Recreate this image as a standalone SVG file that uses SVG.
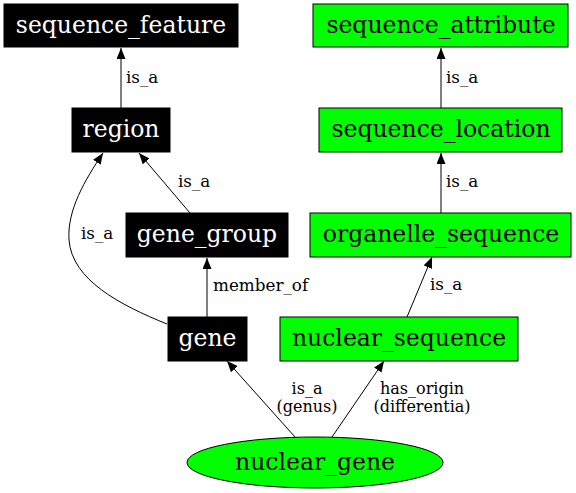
<svg xmlns="http://www.w3.org/2000/svg" width="576" height="493" viewBox="0 0 576 493">
<style>
.n text{font-family:"DejaVu Serif",serif;font-size:23.5px;text-anchor:middle}
.blk rect{fill:#000;stroke:#000}
.blk text{fill:#fff}
.grn rect,.grn ellipse{fill:#00ff00;stroke:#000}
.grn text{fill:#000}
.e path{fill:none;stroke:#000;stroke-width:1}
.e text{font-family:"DejaVu Serif",serif;font-size:16.8px;fill:#000}
.e text.c{text-anchor:middle;font-size:16px}
</style>
<defs>
<marker id="a" markerWidth="11" markerHeight="9" refX="11" refY="4.5" orient="auto" markerUnits="userSpaceOnUse">
<path d="M0,0 L11,4.5 L0,9 z" fill="#000"/>
</marker>
</defs>
<rect width="576" height="493" fill="#fff"/>
<g id="edges" class="e">
<path d="M121,108 L121,48" marker-end="url(#a)"/>
<text x="126" y="83">is_a</text>
<path d="M190,213 L139,153" marker-end="url(#a)"/>
<text x="178" y="187">is_a</text>
<path d="M167,324 C120,305 72,280 69,240 C67,210 85,180 103,153" marker-end="url(#a)"/>
<text x="81" y="239">is_a</text>
<path d="M207,317 L207,258" marker-end="url(#a)"/>
<text x="213" y="291">member_of</text>
<path d="M295,437 L227,361" marker-end="url(#a)"/>
<text class="c" x="307" y="394">is_a</text>
<text class="c" x="307" y="412">(genus)</text>
<path d="M332,437 L384,361" marker-end="url(#a)"/>
<text class="c" x="422" y="394">has_origin</text>
<text class="c" x="422" y="412">(differentia)</text>
<path d="M407,317 L432,257" marker-end="url(#a)"/>
<text x="430" y="290">is_a</text>
<path d="M441,213 L441,153" marker-end="url(#a)"/>
<text x="446" y="187">is_a</text>
<path d="M441,108 L441,48" marker-end="url(#a)"/>
<text x="446" y="83">is_a</text>
</g>
<g id="sequence_feature" class="n blk"><rect x="4" y="4" width="234" height="43"/><text x="121" y="32.5">sequence_feature</text></g>
<g id="region" class="n blk"><rect x="72" y="108" width="98" height="44"/><text x="121" y="137">region</text></g>
<g id="gene_group" class="n blk"><rect x="126" y="213" width="162" height="44"/><text x="207" y="242">gene_group</text></g>
<g id="gene" class="n blk"><rect x="168" y="317" width="79" height="44"/><text x="207.5" y="346">gene</text></g>
<g id="nuclear_sequence" class="n grn"><rect x="280" y="317" width="238" height="44"/><text x="399" y="346">nuclear_sequence</text></g>
<g id="nuclear_gene" class="n grn"><ellipse cx="315" cy="462.5" rx="128" ry="25.5"/><text x="315" y="469.5">nuclear_gene</text></g>
<g id="sequence_attribute" class="n grn"><rect x="313" y="4" width="255" height="43"/><text x="441" y="32.5">sequence_attribute</text></g>
<g id="sequence_location" class="n grn"><rect x="319" y="108" width="243" height="44"/><text x="441" y="137">sequence_location</text></g>
<g id="organelle_sequence" class="n grn"><rect x="310" y="213" width="261" height="44"/><text x="441" y="242">organelle_sequence</text></g>
</svg>
